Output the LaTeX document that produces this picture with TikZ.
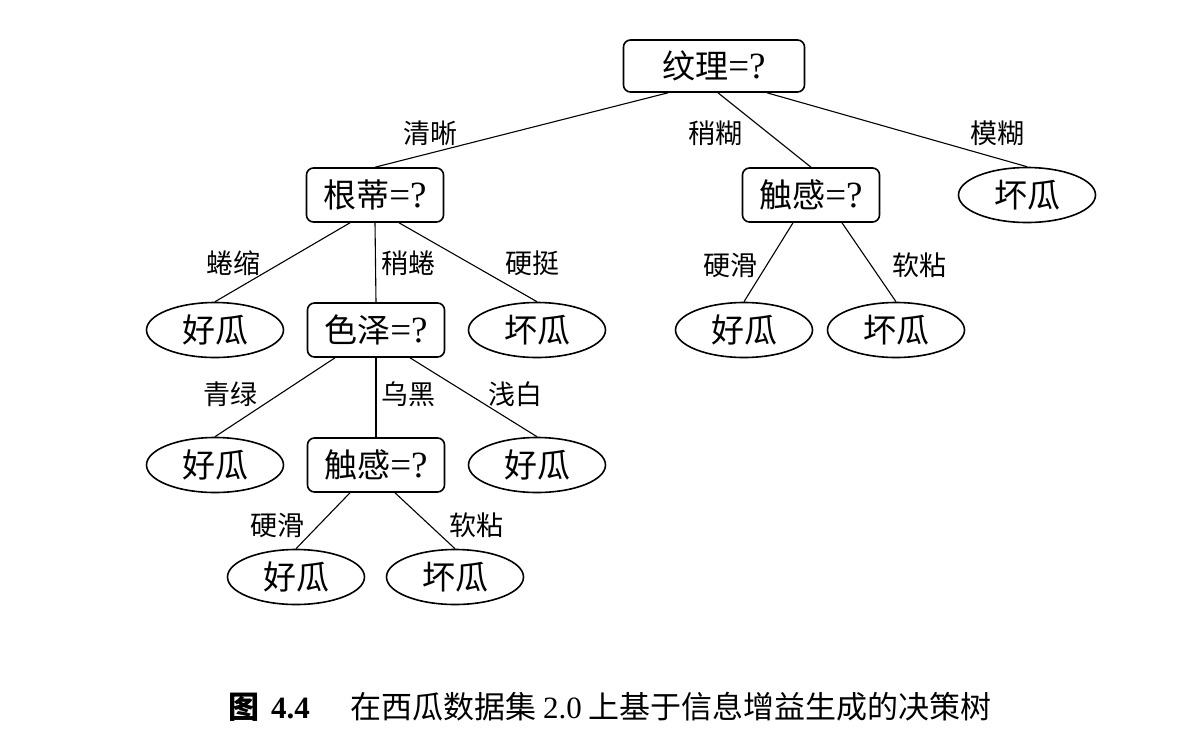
\documentclass[tikz,border=0pt]{standalone}
\usepackage{fontspec}
\setmainfont{Liberation Serif}
\newfontfamily\cjk{Noto Sans CJK SC}
\usetikzlibrary{shapes.geometric}
\newcommand\qtext[1]{{\cjk #1}{\fontsize{37}{40}\selectfont =?}}
\tikzset{
  qbox/.style={draw, line width=1.6pt, rounded corners=7pt, minimum width=137pt, minimum height=54pt, inner sep=0pt, font=\fontsize{33}{38}\selectfont},
  leaf/.style={draw, ellipse, line width=1.6pt, minimum width=137pt, minimum height=55pt, inner sep=0pt, font=\fontsize{33}{38}\selectfont\cjk},
  edge/.style={line width=1.1pt},
  lab/.style={font=\fontsize{27}{30}\selectfont\cjk, inner sep=0pt},
  captext/.style={inner sep=0pt, font=\fontsize{31}{34}\selectfont},
}
\begin{document}
\begin{tikzpicture}[x=1pt,y=-1pt]
\useasboundingbox (0,0) rectangle (1202,740);
% nodes
\node[qbox, minimum width=181pt, minimum height=52pt] (root) at (714,66) {\qtext{纹理}};
\node[qbox] (gendi) at (375,195) {\qtext{根蒂}};
\node[qbox] (chuA) at (811,195) {\qtext{触感}};
\node[leaf] (badA) at (1027,195) {坏瓜};
\node[leaf] (goodA) at (215,330) {好瓜};
\node[qbox] (seze) at (376,330) {\qtext{色泽}};
\node[leaf] (badB) at (537,330) {坏瓜};
\node[leaf] (goodB) at (744,330) {好瓜};
\node[leaf] (badC) at (896,330) {坏瓜};
\node[leaf] (goodC) at (215,465) {好瓜};
\node[qbox] (chuB) at (376,465) {\qtext{触感}};
\node[leaf] (goodD) at (537,465) {好瓜};
\node[leaf] (goodE) at (296,577) {好瓜};
\node[leaf] (badD) at (455,577) {坏瓜};
% edges
\draw[edge] ([xshift=-46pt]root.south) -- (gendi.north);
\draw[edge] ([xshift=4pt]root.south) -- (chuA.north);
\draw[edge] ([xshift=53pt]root.south) -- (badA.north);
\draw[edge] ([xshift=-25pt]gendi.south) -- (goodA.north);
\draw[edge] (gendi.south) -- (seze.north);
\draw[edge] ([xshift=24pt]gendi.south) -- (badB.north);
\draw[edge] ([xshift=-18pt]chuA.south) -- (goodB.north);
\draw[edge] ([xshift=31pt]chuA.south) -- (badC.north);
\draw[edge] ([xshift=-41pt]seze.south) -- (goodC.north);
\draw[edge] (seze.south) -- (chuB.north);
\draw[edge] ([xshift=34pt]seze.south) -- (goodD.north);
\draw[edge] ([xshift=-26pt]chuB.south) -- (goodE.north);
\draw[edge] ([xshift=19pt]chuB.south) -- (badD.north);
% edge labels
\node[lab] (l1) at (430,133) {清晰};
\node[lab] (l2) at (715,133) {稍糊};
\node[lab] (l3) at (997,133) {模糊};
\node[lab] (l4) at (233,263) {蜷缩};
\node[lab] (l5) at (408,263) {稍蜷};
\node[lab] (l6) at (532,263) {硬挺};
\node[lab] (l7) at (730,265) {硬滑};
\node[lab] (l8) at (919,265) {软粘};
\node[lab] (l9) at (230,394) {青绿};
\node[lab] (l10) at (408,394) {乌黑};
\node[lab] (l11) at (515,394) {浅白};
\node[lab] (l12) at (277,525) {硬滑};
\node[lab] (l13) at (476,525) {软粘};
% caption
\node[captext, anchor=west] (capA) at (228,707) {{\cjk\bfseries 图}\hspace{12pt}{\bfseries 4.4}};
\node[captext, anchor=east] (capB) at (992,707)
  {{\cjk 在西瓜数据集}\hspace{7pt}2.0\hspace{7pt}{\cjk 上基于信息增益生成的决策树}};
\end{tikzpicture}
\end{document}
